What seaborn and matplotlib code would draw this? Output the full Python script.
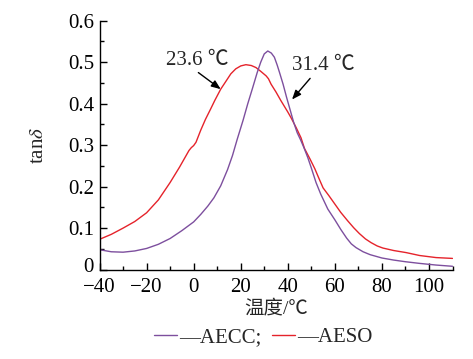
import matplotlib
matplotlib.use("Agg")
import matplotlib.pyplot as plt
from matplotlib.lines import Line2D
from matplotlib.ticker import MultipleLocator, FuncFormatter
import matplotlib.transforms as mtransforms
import seaborn as sns
import pandas as pd

# ---- data ----
aecc_t = [-40, -35, -30, -25, -20, -15, -10, -5, 0, 3, 6, 8.6, 11.5, 14.4, 16.5, 18.5,
          21, 23, 25, 27, 28.5, 30, 31.5, 33, 34.3, 35.5, 36.5, 38, 39.5, 41, 42.5, 44,
          45.5, 47, 48.5, 50, 52, 54, 57, 60, 62.5, 65, 67, 69, 72, 75, 80, 85, 90, 96,
          103, 110]
aecc_v = [0.048, 0.043, 0.042, 0.045, 0.051, 0.061, 0.075, 0.094, 0.115, 0.133, 0.153,
          0.173, 0.202, 0.241, 0.275, 0.314, 0.360, 0.400, 0.437, 0.475, 0.500, 0.520,
          0.527, 0.522, 0.512, 0.493, 0.475, 0.447, 0.415, 0.385, 0.355, 0.330, 0.312,
          0.292, 0.270, 0.245, 0.210, 0.182, 0.146, 0.120, 0.097, 0.076, 0.062, 0.053,
          0.043, 0.036, 0.028, 0.023, 0.019, 0.015, 0.011, 0.008]

aeso_t = [-40, -35, -30, -25, -20, -15, -10, -6, -3.5, -2, -1, 0, 1, 3, 5, 7.2, 9, 11.5,
          13.6, 15.8, 17.9, 20, 22.2, 24.5, 26.5, 28.5, 30.8, 31.8, 32.9, 35, 37, 38.5,
          40, 41.4, 43.5, 45.6, 47.1, 49.5, 51.5, 53, 55, 57.5, 60, 62.5, 65.4, 68, 70.4,
          73, 75.4, 78, 80.4, 85, 90.3, 96, 103, 110]
aeso_v = [0.073, 0.085, 0.100, 0.116, 0.137, 0.168, 0.210, 0.247, 0.272, 0.287, 0.294,
          0.299, 0.307, 0.336, 0.362, 0.387, 0.408, 0.435, 0.453, 0.472, 0.484, 0.491,
          0.494, 0.492, 0.487, 0.478, 0.467, 0.460, 0.447, 0.428, 0.408, 0.394, 0.380,
          0.366, 0.343, 0.318, 0.292, 0.266, 0.243, 0.223, 0.197, 0.178, 0.158, 0.138,
          0.118, 0.101, 0.087, 0.074, 0.065, 0.057, 0.052, 0.046, 0.041, 0.034, 0.029,
          0.027]

legend_labels = ["\u2014AECC;", "\u2014AESO"]
x_label = "温度/℃"
y_label = r"tan$\delta$"
annot_texts = ["23.6 ℃", "31.4 ℃"]

purple = "#7d4f9e"
red = "#e5232b"

sns.set_style("ticks")
plt.rcParams["font.family"] = ["Liberation Serif", "Noto Sans CJK SC"]
plt.rcParams["mathtext.fontset"] = "stix"
plt.rcParams["axes.unicode_minus"] = True

df_aecc = pd.DataFrame({"T": aecc_t, "v": aecc_v})
df_aeso = pd.DataFrame({"T": aeso_t, "v": aeso_v})

fig = plt.figure(figsize=(4.73, 3.59), dpi=100)
ax = fig.add_axes([0.2104, 0.249, 0.7463, 0.6933])

sns.lineplot(data=df_aeso, x="T", y="v", ax=ax, color=red, lw=1.0, sort=False)
sns.lineplot(data=df_aecc, x="T", y="v", ax=ax, color=purple, lw=1.0, sort=False)

ax.set_xlim(-40, 110)
ax.set_ylim(0, 0.6)
ax.xaxis.set_major_locator(MultipleLocator(20))
ax.xaxis.set_minor_locator(MultipleLocator(10))
ax.yaxis.set_major_locator(MultipleLocator(0.1))
ax.yaxis.set_minor_locator(MultipleLocator(0.05))
ax.yaxis.set_major_formatter(FuncFormatter(lambda v, p: "0" if abs(v) < 1e-9 else f"{v:.1f}"))
ax.xaxis.set_major_formatter(FuncFormatter(lambda v, p: f"{int(round(v))}".replace("-", "\u2212")))

for s in ["top", "right"]:
    ax.spines[s].set_visible(False)
for s in ["left", "bottom"]:
    ax.spines[s].set_color("black")
    ax.spines[s].set_linewidth(1.0)

ax.tick_params(which="major", direction="in", length=5, width=1.0, labelsize=15,
               colors="black")
ax.tick_params(which="minor", direction="in", length=3, width=1.0, colors="black")
ax.tick_params(axis="x", which="major", pad=6)
ax.tick_params(axis="y", which="major", pad=4)

# lift the "0" label on the y axis slightly so it clears the "-40" below it
fig.canvas.draw()
for lbl in ax.get_yticklabels():
    if lbl.get_text() == "0":
        lbl.set_transform(lbl.get_transform() +
                          mtransforms.ScaledTranslation(0, 3 / 72, fig.dpi_scale_trans))

ax.set_xlabel(x_label, fontsize=14, labelpad=2)
ax.set_ylabel(y_label, fontsize=15, labelpad=14)

arrow = dict(arrowstyle="-|>,head_length=0.55,head_width=0.22", color="black",
             lw=1.0, shrinkA=0, shrinkB=0)
ax.text(1.6, 0.503, annot_texts[0], fontsize=15, ha="center", va="center")
ax.annotate("", xy=(11.5, 0.435), xytext=(2.0, 0.475), arrowprops=arrow)
ax.text(55.0, 0.491, annot_texts[1], fontsize=15, ha="center", va="center")
ax.annotate("", xy=(41.8, 0.41), xytext=(49.5, 0.461), arrowprops=arrow)

handles = [Line2D([], [], color=purple, lw=1.0), Line2D([], [], color=red, lw=1.0)]
fig.legend(handles, legend_labels, loc="center", bbox_to_anchor=(0.557, 0.061),
           ncol=2, frameon=False, fontsize=15, handlelength=1.1, handletextpad=0.1,
           columnspacing=0.5, borderpad=0, borderaxespad=0)

fig.savefig("out.png", dpi=100)
